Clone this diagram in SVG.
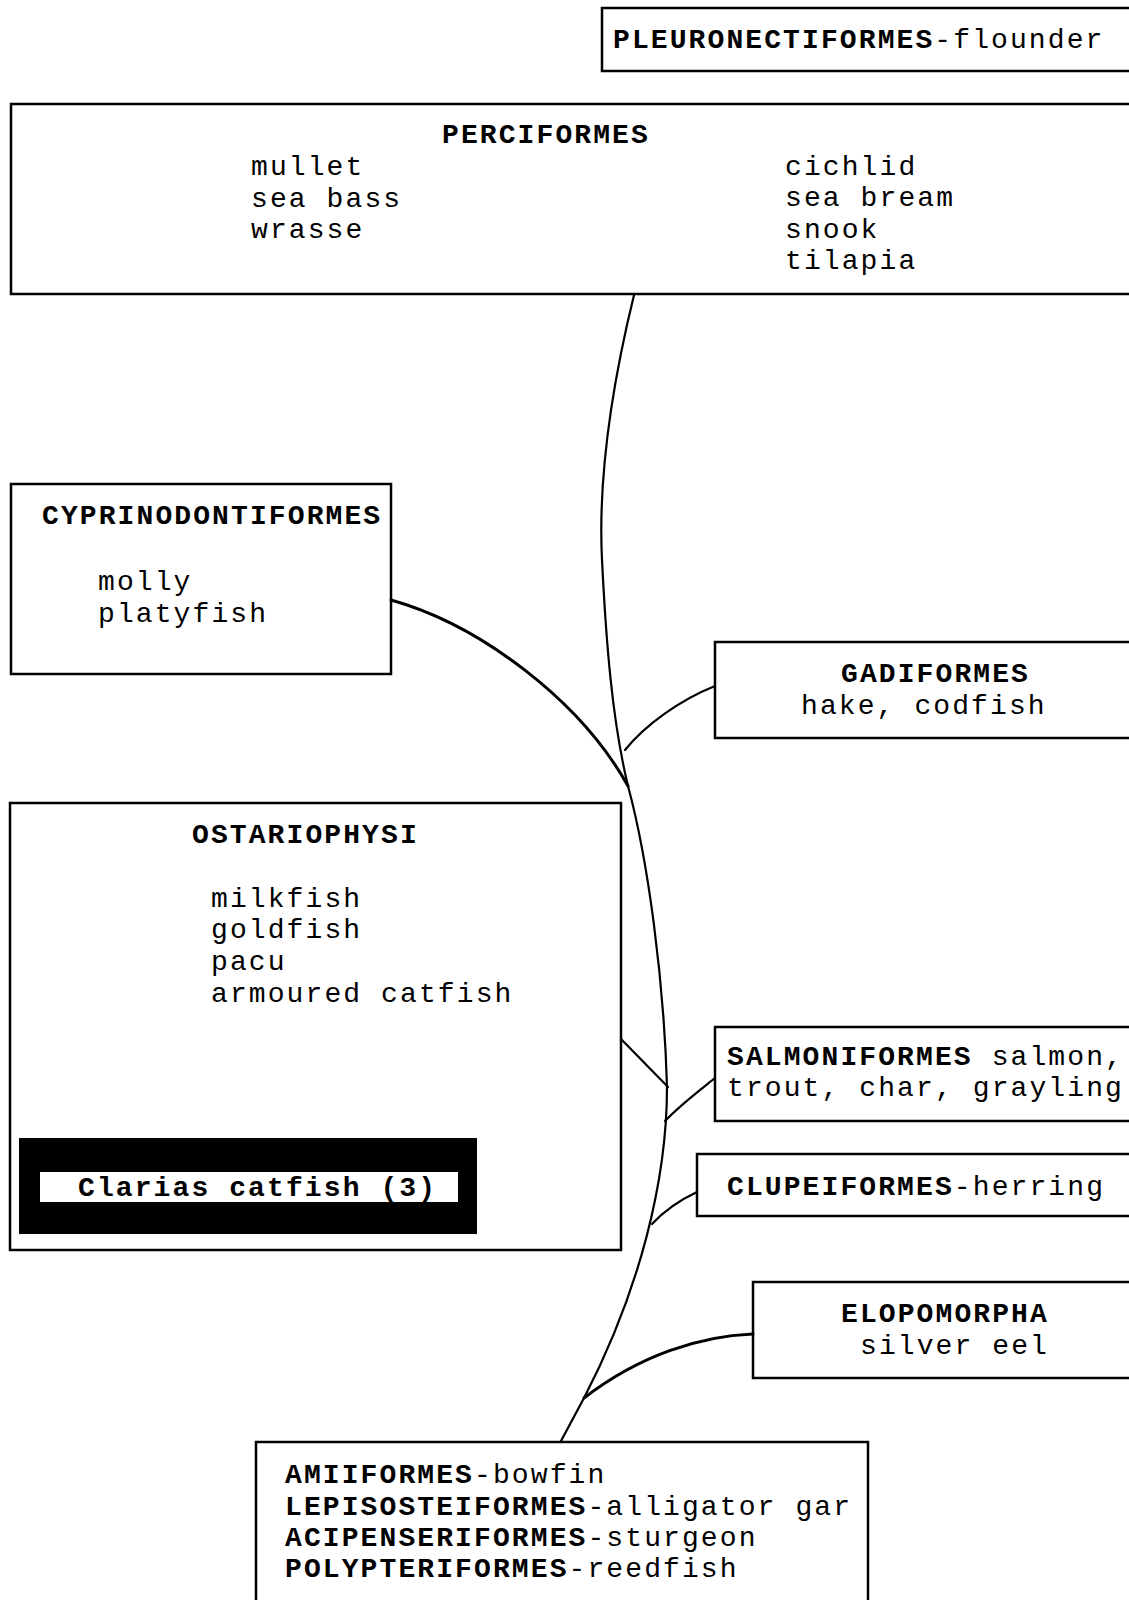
<svg xmlns="http://www.w3.org/2000/svg" width="1129" height="1600" viewBox="0 0 1129 1600">
<style>
  .box { fill: none; stroke: #000; stroke-width: 2.5; }
  .t { font-family: "Liberation Mono", "DejaVu Sans Mono", monospace; font-size: 28px; letter-spacing: 2.1px; fill: #000; }
  .b { font-weight: bold; }
  .c { fill: none; stroke: #000; stroke-width: 2.2; stroke-linecap: round; }
</style>
<rect x="0" y="0" width="1129" height="1600" fill="#fff"/>

<g id="connectors">
  <path class="c" d="M634,295 C612,385 598,480 602,560 S612,720 628,786 C648,860 664,980 667,1087 C667,1180 640,1290 584,1398 L561,1441"/>
  <path class="c" style="stroke-width:3" d="M391,600 C480,625 580,700 628,786"/>
  <path class="c" d="M715,686 C680,700 645,725 625,750"/>
  <path class="c" d="M621,1039 L668,1087"/>
  <path class="c" d="M715,1078 C700,1090 680,1105 665,1121"/>
  <path class="c" d="M697,1192 C680,1200 665,1210 652,1224"/>
  <path class="c" style="stroke-width:3" d="M753,1334 C700,1336 640,1355 584,1398"/>
</g>

<g id="pleuronectiformes">
  <rect class="box" x="602" y="8" width="540" height="63"/>
  <text class="t" x="613" y="48"><tspan class="b">PLEURONECTIFORMES</tspan>-flounder</text>
</g>

<g id="perciformes">
  <rect class="box" x="11" y="104" width="1130" height="190"/>
  <text class="t b" x="442" y="143">PERCIFORMES</text>
  <text class="t" x="251" y="175">mullet</text>
  <text class="t" x="251" y="207">sea bass</text>
  <text class="t" x="251" y="238">wrasse</text>
  <text class="t" x="785" y="175">cichlid</text>
  <text class="t" x="785" y="206">sea bream</text>
  <text class="t" x="785" y="238">snook</text>
  <text class="t" x="785" y="269">tilapia</text>
</g>

<g id="cyprinodontiformes">
  <rect class="box" x="11" y="484" width="380" height="190"/>
  <text class="t b" x="42" y="524">CYPRINODONTIFORMES</text>
  <text class="t" x="98" y="590">molly</text>
  <text class="t" x="98" y="622">platyfish</text>
</g>

<g id="gadiformes">
  <rect class="box" x="715" y="642" width="430" height="96"/>
  <text class="t b" x="841" y="682">GADIFORMES</text>
  <text class="t" x="801" y="714">hake, codfish</text>
</g>

<g id="ostariophysi">
  <rect class="box" x="10" y="803" width="611" height="447"/>
  <text class="t b" x="192" y="843">OSTARIOPHYSI</text>
  <text class="t" x="211" y="907">milkfish</text>
  <text class="t" x="211" y="938">goldfish</text>
  <text class="t" x="211" y="970">pacu</text>
  <text class="t" x="211" y="1002">armoured catfish</text>
  <rect x="19" y="1138" width="458" height="96" fill="#000"/>
  <rect x="40" y="1172" width="418" height="30" fill="#fff"/>
  <text class="t b" x="78" y="1196">Clarias catfish (3)</text>
</g>

<g id="salmoniformes">
  <rect class="box" x="715" y="1027" width="430" height="94"/>
  <text class="t" x="727" y="1065"><tspan class="b">SALMONIFORMES</tspan> salmon,</text>
  <text class="t" x="727" y="1096">trout, char, grayling</text>
</g>

<g id="clupeiformes">
  <rect class="box" x="697" y="1154" width="450" height="62"/>
  <text class="t" x="727" y="1195"><tspan class="b">CLUPEIFORMES</tspan>-herring</text>
</g>

<g id="elopomorpha">
  <rect class="box" x="753" y="1282" width="400" height="96"/>
  <text class="t b" x="841" y="1322">ELOPOMORPHA</text>
  <text class="t" x="860" y="1354">silver eel</text>
</g>

<g id="basal-orders">
  <rect class="box" x="256" y="1442" width="612" height="170"/>
  <text class="t" x="285" y="1483"><tspan class="b">AMIIFORMES</tspan>-bowfin</text>
  <text class="t" x="285" y="1515"><tspan class="b">LEPISOSTEIFORMES</tspan>-alligator gar</text>
  <text class="t" x="285" y="1546"><tspan class="b">ACIPENSERIFORMES</tspan>-sturgeon</text>
  <text class="t" x="285" y="1577"><tspan class="b">POLYPTERIFORMES</tspan>-reedfish</text>
</g>
</svg>
